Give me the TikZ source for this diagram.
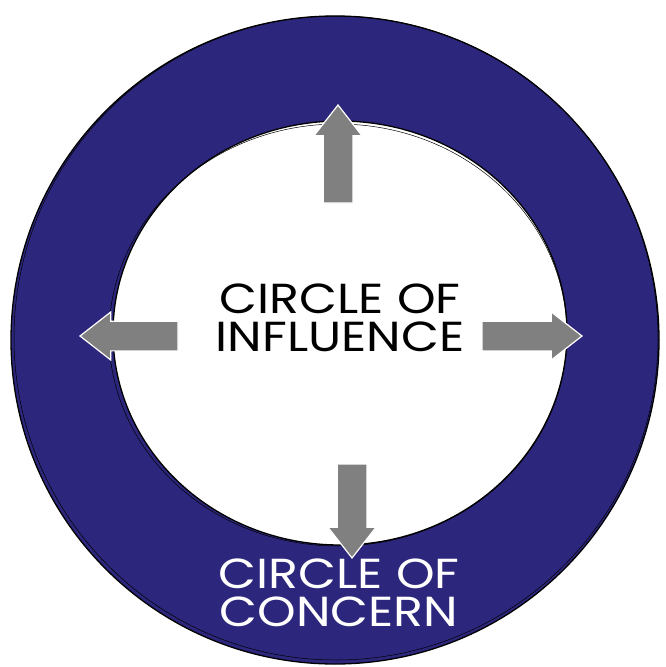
\documentclass[tikz,border=0pt]{standalone}
\usepackage{fontspec}
\setmainfont{Poppins}
\usepackage{tikz}
\usetikzlibrary{positioning,shapes.geometric,shapes.arrows}

\definecolor{concernblue}{RGB}{44,39,124}
\definecolor{arrowgray}{RGB}{128,128,128}

\begin{document}
\begin{tikzpicture}[
  x=1pt, y=-1pt,
  ring/.style={circle, draw=black, line width=1.3pt, fill=concernblue, inner sep=0pt, outer sep=0pt},
  core/.style={ellipse, draw=black, line width=1.3pt, fill=white, inner sep=0pt, outer sep=0pt},
  push/.style={single arrow, draw=white, line width=1.2pt, fill=arrowgray, inner xsep=0pt, inner ysep=14pt,
    minimum width=48pt, single arrow head extend=9pt, single arrow tip angle=76, outer sep=0pt, anchor=tip},
  label/.style={align=center, font=\fontsize{42}{38}\selectfont}
]
\useasboundingbox (0,0) rectangle (666,667);

\node[ring, minimum size=648pt] (concern) at (335,340) {};
\draw[line width=0.5pt] (336,338) circle[radius=322];
\node[core, minimum width=454pt, minimum height=424pt] (influence) at (340,333) {};
\draw[line width=0.5pt] (338,335) ellipse[x radius=229, y radius=211];

% arrows pushing outwards
\node[push, minimum height=98pt, rotate=90] (up) at (338,105) {};
\node[push, minimum height=98pt, rotate=180] (left) at (80,336) {};
\node[push, minimum height=100pt] (right) at (582,336) {};
\node[push, minimum height=94pt, rotate=-90] (down) at (352,558) {};

\node[label, text=black] (inftext) at (340,318) {\scalebox{1.17}[1]{CIRCLE OF}\\\scalebox{1.17}[1]{INFLUENCE}};
\node[label, text=white] (context) at (339,593) {\scalebox{1.17}[1]{CIRCLE OF}\\\scalebox{1.17}[1]{CONCERN}};
\end{tikzpicture}
\end{document}
